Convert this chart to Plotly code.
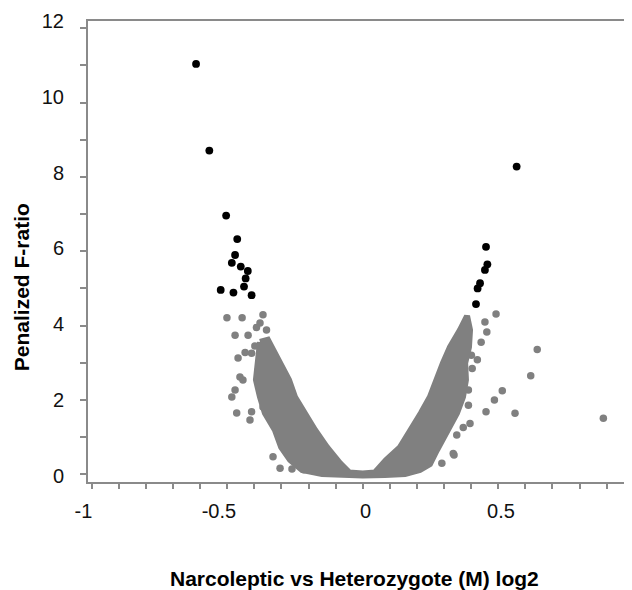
import plotly.graph_objects as go

# Dense gene cloud outline (boundary of the overlapping grey points)
cloud_x = [-0.379, -0.386, -0.394, -0.379, -0.361, -0.324, -0.301, -0.268, -0.224, -0.150,
           -0.076, 0.000, 0.082, 0.156, 0.211, 0.248, 0.274, 0.311, 0.348, 0.370,
           0.381, 0.378, 0.392, 0.396, 0.385, 0.359, 0.322, 0.296, 0.270, 0.248,
           0.215, 0.178, 0.138, 0.086, 0.045, 0.000, -0.050, -0.084, -0.132, -0.176,
           -0.213, -0.250, -0.272, -0.305, -0.331, -0.350, -0.379]
cloud_y = [3.56, 2.99, 2.54, 2.08, 1.65, 1.19, 0.73, 0.385, 0.116, 0.008,
           -0.02, -0.03, -0.02, 0.008, 0.116, 0.277, 0.654, 1.19, 1.65, 2.08,
           2.54, 2.99, 3.42, 3.88, 4.26, 3.88, 3.42, 2.99, 2.54, 2.08,
           1.65, 1.19, 0.73, 0.385, 0.05, 0.02, 0.05, 0.30, 0.73, 1.19,
           1.65, 2.08, 2.54, 2.99, 3.42, 3.62, 3.56]

# Individual grey (non-significant) points outside the dense cloud
gray_x = [-0.501, -0.445, -0.368, -0.379, -0.355, -0.471, -0.423, -0.434, -0.460, -0.410,
          -0.453, -0.442, -0.471, -0.483, -0.465, -0.410, -0.416, -0.368, -0.331, -0.305,
          -0.261, -0.217, -0.392, -0.398, -0.386,
          0.492, 0.451, 0.458, 0.437, 0.644, 0.423, 0.620, 0.515, 0.486, 0.455,
          0.562, 0.888, 0.396, 0.371, 0.347, 0.390, 0.390, 0.334, 0.292, 0.337,
          0.401, 0.404]
gray_y = [4.21, 4.21, 4.29, 4.07, 3.88, 3.74, 3.74, 3.28, 3.13, 3.26,
          2.62, 2.54, 2.27, 2.08, 1.65, 1.68, 1.46, 1.81, 0.47, 0.16,
          0.14, 0.12, 3.95, 3.45, 2.80,
          4.31, 4.10, 3.83, 3.55, 3.36, 3.08, 2.65, 2.25, 2.00, 1.68,
          1.64, 1.51, 1.37, 1.26, 1.06, 2.27, 1.86, 0.56, 0.30, 0.52,
          3.20, 2.85]

# Significant (black) points
black_x = [-0.615, -0.566, -0.504, -0.463, -0.471, -0.483, -0.450, -0.424, -0.432, -0.438,
           -0.524, -0.477, -0.410,
           0.568, 0.455, 0.460, 0.451, 0.433, 0.424, 0.418]
black_y = [11.04, 8.71, 6.96, 6.33, 5.90, 5.69, 5.59, 5.47, 5.27, 5.05,
           4.96, 4.89, 4.82,
           8.28, 6.12, 5.65, 5.50, 5.14, 5.00, 4.58]

# Axis ticks and labels
x_tickvals = [-1.0, -0.9, -0.8, -0.7, -0.6, -0.5, -0.4, -0.3, -0.2, -0.1,
              0.0, 0.1, 0.2, 0.3, 0.4, 0.5, 0.6, 0.7, 0.8, 0.9]
x_ticktext = ["-1\u00a0\u00a0\u00a0", "", "", "", "", "-0.5\u00a0\u00a0\u00a0", "", "", "", "",
              "\u00a00", "", "", "", "", "\u00a00.5", "", "", "", ""]
y_tickvals = [0, 1, 2, 3, 4, 5, 6, 7, 8, 9, 10, 11, 12]
y_labelvals = [0, 2, 4, 6, 8, 10, 12]
y_labeltext = ["0", "2", "4", "6", "8", "10", "12"]

x_title = "Narcoleptic vs Heterozygote (M) log2"
y_title = "Penalized F-ratio"

GRAY = "#808080"
AX = "#8a8a8a"
FONT = "Liberation Sans, Arial, sans-serif"

fig = go.Figure()
fig.add_trace(go.Scatter(x=cloud_x, y=cloud_y, mode="lines", fill="toself",
                         fillcolor=GRAY, line=dict(color=GRAY, width=6),
                         hoverinfo="skip", showlegend=False))
fig.add_trace(go.Scatter(x=gray_x, y=gray_y, mode="markers",
                         marker=dict(color=GRAY, size=7.5), showlegend=False))
fig.add_trace(go.Scatter(x=black_x, y=black_y, mode="markers",
                         marker=dict(color="black", size=7.8), showlegend=False))
# empty trace so that the label axis (y2) is drawn
fig.add_trace(go.Scatter(x=[], y=[], xaxis="x", yaxis="y2", mode="markers",
                         hoverinfo="skip", showlegend=False))

fig.update_layout(
    width=624, height=582,
    margin=dict(l=80, r=0, t=13, b=108, autoexpand=False),
    plot_bgcolor="white", paper_bgcolor="white",
    showlegend=False,
    font=dict(family=FONT, color="#111111"),
    xaxis=dict(range=[-1.0137, 0.9937], tickmode="array", tickvals=x_tickvals,
               ticktext=x_ticktext, ticks="outside", ticklen=5, tickwidth=1.5,
               tickcolor=AX, showline=True, linecolor=AX, linewidth=1.5,
               mirror=True, showgrid=False, zeroline=False,
               ticklabelstandoff=5,
               tickfont=dict(size=20, family=FONT, color="#111111")),
    yaxis=dict(range=[-0.207, 12.196], tickmode="array", tickvals=y_tickvals,
               ticks="outside", ticklen=6, tickwidth=1.5, tickcolor=AX,
               showticklabels=False, showline=True, linecolor=AX, linewidth=1.5,
               showgrid=False, zeroline=False),
    yaxis2=dict(overlaying="y", side="left", anchor="x", range=[-0.163, 12.003],
                tickmode="array", tickvals=y_labelvals, ticktext=y_labeltext,
                ticks="", showline=False, showgrid=False, zeroline=False,
                ticklabelstandoff=23,
                tickfont=dict(size=20, family=FONT, color="#111111")),
    annotations=[
        dict(text="<b>" + x_title + "</b>", xref="paper", yref="paper",
             x=0.489, y=-0.2104, xanchor="center", yanchor="middle",
             showarrow=False, font=dict(size=21, family=FONT, color="#000000")),
        dict(text="<b>" + y_title + "</b>", xref="paper", yref="paper",
             x=-0.121, y=0.423, xanchor="center", yanchor="middle", textangle=-90,
             showarrow=False, font=dict(size=21, family=FONT, color="#000000")),
    ],
)

fig.write_html("out.html")
